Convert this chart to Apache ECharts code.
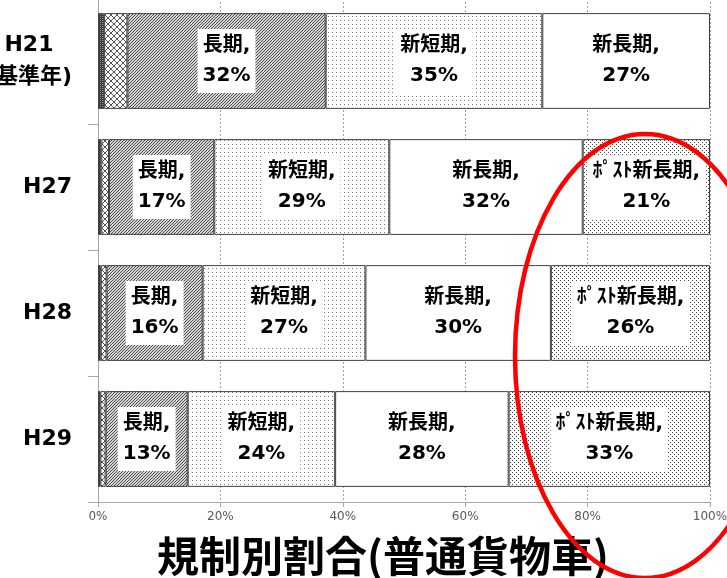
<!DOCTYPE html>
<html>
<head>
<meta charset="utf-8">
<script src="https://cdn.jsdelivr.net/npm/echarts@6/dist/echarts.min.js"></script>
<style>
  html, body { margin: 0; padding: 0; background: #fff; }
  #chart { width: 727px; height: 578px; }
</style>
</head>
<body>
<div id="chart"></div>
<script>
// categories, top to bottom
const categories = ['H21\n(基準年)', 'H27', 'H28', 'H29'];

// share of each regulation (%), one array per series
const preReg      = [1.0, 0.55, 0.45, 0.4];
const shortTerm   = [3.8, 1.25, 0.95, 0.85];
const longTerm    = [32.4, 17.2, 15.7, 13.4];
const newShort    = [35.4, 28.6, 26.6, 24.1];
const newLong     = [27.4, 31.6, 30.3, 28.35];
const postNewLong = [null, 20.8, 26.0, 32.9];

const seriesNames = ['規制前', '短期', '長期', '新短期', '新長期', 'ﾎﾟｽﾄ新長期'];
const seriesData = [preReg, shortTerm, longTerm, newShort, newLong, postNewLong];
const xTickStep = 20;

const FONT = "'DejaVu Sans', 'Noto Sans CJK JP', sans-serif";

// little pixel tiles, like the Excel fill patterns
function pattern(w, h, bg, fg, on) {
  const c = document.createElement('canvas');
  c.width = w;
  c.height = h;
  const ctx = c.getContext('2d');
  ctx.fillStyle = bg;
  ctx.fillRect(0, 0, w, h);
  ctx.fillStyle = fg;
  for (let y = 0; y < h; y++) {
    for (let x = 0; x < w; x++) {
      if (on(x, y)) ctx.fillRect(x, y, 1, 1);
    }
  }
  return { image: c, repeat: 'repeat' };
}

const fills = [
  pattern(2, 2, '#3c3c3c', '#8c8c8c', (x, y) => x === 0 && y === 0),
  pattern(6, 6, '#ffffff', '#555555', (x, y) => x === y || x + y === 5),
  pattern(3, 3, '#d4d4d4', '#505050', (x, y) => (x + y) % 3 === 2),
  pattern(4, 4, '#ffffff', '#777777', (x, y) => x === 0 && y === 0),
  '#ffffff',
  pattern(4, 4, '#ffffff', '#444444', (x, y) => (x === 0 && y === 0) || (x === 2 && y === 2))
];

const series = seriesNames.map((name, i) => ({
  name: name,
  type: 'bar',
  stack: 'total',
  barCategoryGap: '24%',
  data: seriesData[i],
  itemStyle: {
    color: fills[i],
    borderColor: '#404040',
    borderWidth: 1
  },
  label: {
    show: i >= 2,
    position: 'inside',
    formatter: p => p.value ? p.seriesName + ',\n' + Math.round(p.value) + '%' : '',
    backgroundColor: '#ffffff',
    padding: [2, 5],
    fontFamily: FONT,
    fontSize: 20,
    fontWeight: 'bold',
    lineHeight: 30,
    color: '#000'
  },
  emphasis: { disabled: true }
}));

const chart = echarts.init(document.getElementById('chart'));

chart.setOption({
  animation: false,
  title: {
    text: '規制別割合(普通貨物車)',
    left: 152,
    top: 530,
    textStyle: {
      fontFamily: "'Noto Sans CJK JP', sans-serif",
      fontSize: 42,
      fontWeight: 'bold',
      color: '#000'
    }
  },
  grid: { left: 98, right: 17, top: -2, bottom: 76, outerBoundsMode: 'none' },
  xAxis: {
    type: 'value',
    min: 0,
    max: 100,
    interval: xTickStep,
    axisLine: { show: true, lineStyle: { color: '#a6a6a6' } },
    axisTick: { show: true, length: 5, lineStyle: { color: '#a6a6a6' } },
    axisLabel: {
      formatter: '{value}%',
      margin: 9,
      fontFamily: FONT,
      fontSize: 12,
      color: '#595959'
    },
    splitLine: { show: true, lineStyle: { color: '#a0a0a0', type: [2, 2] } }
  },
  yAxis: {
    type: 'category',
    inverse: true,
    data: categories,
    axisLine: { show: true, lineStyle: { color: '#a6a6a6' } },
    axisTick: { show: true, length: 10, lineStyle: { color: '#a6a6a6' } },
    axisLabel: {
      margin: 26,
      formatter: v => v.split('\n').map(s => '{c|' + s + '}').join('\n'),
      rich: {
        c: {
          align: 'center',
          fontFamily: FONT,
          fontSize: 22,
          fontWeight: 'bold',
          lineHeight: 32,
          color: '#000'
        }
      }
    }
  },
  graphic: [{
    type: 'ellipse',
    silent: true,
    z: 100,
    shape: { cx: 645, cy: 356, rx: 130, ry: 222 },
    style: { fill: 'none', stroke: '#ff0000', lineWidth: 4.5 }
  }],
  series: series
});
</script>
</body>
</html>
